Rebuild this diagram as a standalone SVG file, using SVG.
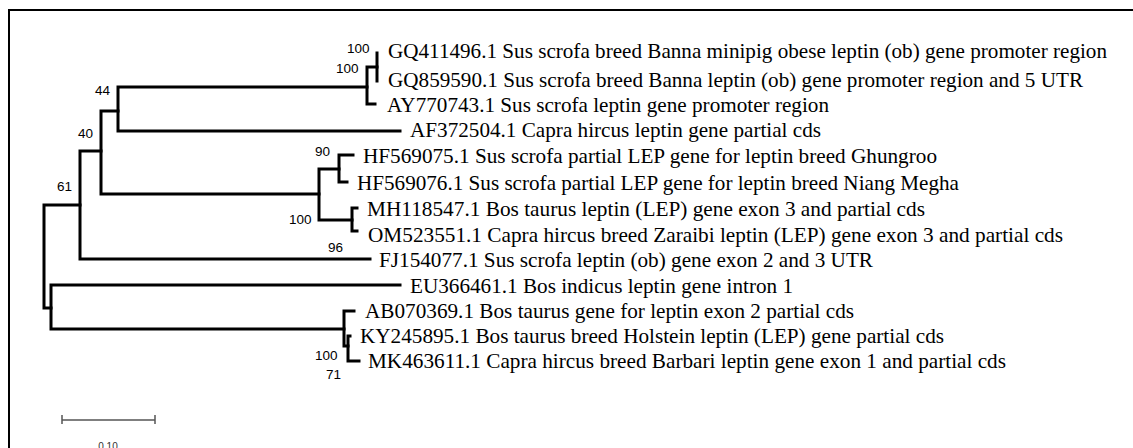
<svg xmlns="http://www.w3.org/2000/svg" width="1133" height="448" viewBox="0 0 1133 448">
<style>
.br{fill:none;stroke:#000;stroke-width:3;stroke-linecap:square;stroke-linejoin:miter}
.tx{font-family:"Liberation Serif","Times New Roman",serif;font-size:22px;fill:#000}
.bs{font-family:"Liberation Sans",Arial,sans-serif;font-size:13.5px;fill:#000}
.sc{fill:none;stroke:#555;stroke-width:1.5}
</style>
<rect width="1133" height="448" fill="#fff"/>
<path d="M9,460 V10 H1140" fill="none" stroke="#000" stroke-width="2"/>
<g id="connectors">
<path class="br" d="M80,205 H44 V308 H51"/>
<path class="br" d="M101,151 H80 V259 H370"/>
<path class="br" d="M118,111 H101 V194 H319"/>
<path class="br" d="M367,87 H118 V131 H400"/>
<path class="br" d="M377,67 H367 V104 H375"/>
<path class="br" d="M377,53 V81"/>
<path class="br" d="M339,169 H319 V220 H352"/>
<path class="br" d="M353,155 H339 V182 H347"/>
<path class="br" d="M357,208 H352 V231 H357"/>
<path class="br" d="M400,285 H51 V329 H344"/>
<path class="br" d="M354,311 H344 V346 H348"/>
<path class="br" d="M350,336 H348 V361 H359"/>
</g>
<g id="n1"><text class="tx" x="388" y="58" textLength="719" lengthAdjust="spacingAndGlyphs">GQ411496.1 Sus scrofa breed Banna minipig obese leptin (ob) gene promoter region</text></g>
<g id="n2"><text class="tx" x="388" y="87" textLength="695" lengthAdjust="spacingAndGlyphs">GQ859590.1 Sus scrofa breed Banna leptin (ob) gene promoter region and 5 UTR</text></g>
<g id="n3"><text class="tx" x="387" y="112" textLength="442" lengthAdjust="spacingAndGlyphs">AY770743.1 Sus scrofa leptin gene promoter region</text></g>
<g id="n4"><text class="tx" x="410" y="137" textLength="411" lengthAdjust="spacingAndGlyphs">AF372504.1 Capra hircus leptin gene partial cds</text></g>
<g id="n5"><text class="tx" x="363" y="163" textLength="574" lengthAdjust="spacingAndGlyphs">HF569075.1 Sus scrofa partial LEP gene for leptin breed Ghungroo</text></g>
<g id="n6"><text class="tx" x="357" y="190" textLength="602" lengthAdjust="spacingAndGlyphs">HF569076.1 Sus scrofa partial LEP gene for leptin breed Niang Megha</text></g>
<g id="n7"><text class="tx" x="367" y="216" textLength="558" lengthAdjust="spacingAndGlyphs">MH118547.1 Bos taurus leptin (LEP) gene exon 3 and partial cds</text></g>
<g id="n8"><text class="tx" x="368" y="242" textLength="695" lengthAdjust="spacingAndGlyphs">OM523551.1 Capra hircus breed Zaraibi leptin (LEP) gene exon 3 and partial cds</text></g>
<g id="n9"><text class="tx" x="379" y="267" textLength="494" lengthAdjust="spacingAndGlyphs">FJ154077.1 Sus scrofa leptin (ob) gene exon 2 and 3 UTR</text></g>
<g id="n10"><text class="tx" x="410" y="293" textLength="383" lengthAdjust="spacingAndGlyphs">EU366461.1 Bos indicus leptin gene intron 1</text></g>
<g id="n11"><text class="tx" x="365" y="318" textLength="489" lengthAdjust="spacingAndGlyphs">AB070369.1 Bos taurus gene for leptin exon 2 partial cds</text></g>
<g id="n12"><text class="tx" x="360" y="343" textLength="584" lengthAdjust="spacingAndGlyphs">KY245895.1 Bos taurus breed Holstein leptin (LEP) gene partial cds</text></g>
<g id="n13"><text class="tx" x="368" y="368" textLength="638" lengthAdjust="spacingAndGlyphs">MK463611.1 Capra hircus breed Barbari leptin gene exon 1 and partial cds</text></g>
<g id="bootstrap">
<text class="bs" x="347" y="53">100</text>
<text class="bs" x="336" y="73">100</text>
<text class="bs" x="95" y="95">44</text>
<text class="bs" x="78" y="138">40</text>
<text class="bs" x="57" y="191">61</text>
<text class="bs" x="315" y="156">90</text>
<text class="bs" x="289" y="224">100</text>
<text class="bs" x="328" y="252">96</text>
<text class="bs" x="315" y="360">100</text>
<text class="bs" x="326" y="379">71</text>
</g>
<g id="scale">
<path class="sc" d="M62,420 H155 M62,415 V424 M155,415 V424"/>
<text x="108" y="450" text-anchor="middle" font-family="Liberation Sans,Arial,sans-serif" font-size="10" fill="#333">0.10</text>
</g>
</svg>
